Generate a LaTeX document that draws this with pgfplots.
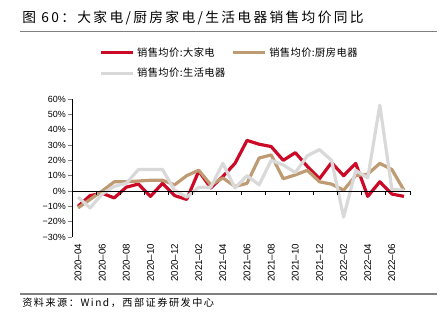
\documentclass[border=0pt]{standalone}
\usepackage{fontspec}
\setmainfont{Liberation Sans}
\newfontfamily\cjk{Noto Sans CJK SC}
\newfontfamily\cjkt[LetterSpace=17]{Noto Sans CJK SC}
\newfontfamily\cjks[LetterSpace=15]{Noto Sans CJK SC}
\newfontfamily\cjkl[LetterSpace=4]{Noto Sans CJK SC}
\usepackage{pgfplots}
\pgfplotsset{compat=1.18}
\definecolor{cRed}{RGB}{204,10,40}
\definecolor{cTan}{RGB}{191,155,115}
\definecolor{cGray}{RGB}{217,217,217}
\definecolor{cRule}{RGB}{128,128,128}
\pgfplotstableread{
i red tan gray
0 -10 -11 -4
1 -3 -5.5 -11
2 -1.5 0 -2
3 -4.5 6 3
4 2.5 6 5
5 4.5 6.5 14
6 -3.5 7 14
7 5 7 14
8 -3 4 0.5
9 -5.5 10 -4
10 13 13.5 2.5
11 2 4 2.5
12 9.5 8.5 18
13 18 3 2
14 33 5 10
15 30.5 21.5 4
16 29 23.5 20
17 20 8 17
18 25 10.5 12
19 16 13.5 23
20 8 6 27
21 18.5 4.5 20
22 10 0.5 -17
23 18 10 13.5
24 -3.5 11 8.5
25 6 18 56
26 -2 14 1
27 -3.5 0.5 0.5
}\datatable
\begin{document}
\begin{tikzpicture}
\path[use as bounding box] (0,0) rectangle (332.25pt,245.25pt);
% title
\node[anchor=west, inner sep=0pt] at (16.5pt,{(327-18.3)*0.75pt}) {\cjkt\fontsize{10.3}{12}\selectfont 图 60：大家电/厨房家电/生活电器销售均价同比};
\draw[cRule, line width=1.1pt] (15pt,{(327-31.7)*0.75pt}) -- (327.75pt,{(327-31.7)*0.75pt});
\draw[cRule, line width=1.1pt] (15pt,{(327-294)*0.75pt}) -- (327.75pt,{(327-294)*0.75pt});
\node[anchor=west, inner sep=0pt] at (16.5pt,{(327-303)*0.75pt}) {\cjks\fontsize{7.6}{9}\selectfont 资料来源：Wind，西部证券研发中心};
\begin{axis}[
  at={(54pt,67.5pt)}, anchor=south west,
  scale only axis, width=253.5pt, height=103.5pt,
  xmin=-0.5, xmax=27.5, ymin=-30, ymax=60,
  axis y line*=left, axis x line*=bottom,
  x axis line style={draw=none},
  y axis line style={line width=0.6pt},
  ytick={-30,-20,...,60},
  yticklabels={−30\%,−20\%,−10\%,0\%,10\%,20\%,30\%,40\%,50\%,60\%},
  y tick label style={font=\fontsize{6.7}{7}\selectfont, inner sep=1.5pt},
  ytick style={line width=0.6pt},
  tick align=outside, major tick length=3pt,
  xtick={0,2,...,26},
  xticklabels={2020--04,2020--06,2020--08,2020--10,2020--12,2021--02,2021--04,2021--06,2021--08,2021--10,2021--12,2022--02,2022--04,2022--06},
  x tick label style={rotate=90, anchor=east, font=\fontsize{7.3}{8}\selectfont, inner sep=2pt},
  xtick style={draw=none},
  clip=false,
  legend columns=2,
  legend cell align=left,
  legend image code/.code={\draw[#1] (0pt,0pt) -- (24pt,0pt);},
  legend style={at={(0.068,1.405)}, anchor=north west, draw=none, fill=none,
    font=\cjkl\fontsize{7.7}{9}\selectfont, row sep=5.5pt,
    nodes={inner sep=1pt},
    /tikz/every odd column/.append style={column sep=1pt},
    /tikz/every even column/.append style={column sep=3.5pt}},
]
\addplot[cRed, line width=2.4pt, line join=round] table[x=i, y=red] {\datatable};
\addlegendentry{销售均价:大家电}
\addplot[cTan, line width=2.4pt, line join=round] table[x=i, y=tan] {\datatable};
\addlegendentry{销售均价:厨房电器}
\addplot[cGray, line width=2.4pt, line join=round] table[x=i, y=gray] {\datatable};
\addlegendentry{销售均价:生活电器}
\draw[black, line width=0.7pt] (axis cs:-0.5,0) -- (axis cs:27.5,0);
\pgfplotsinvokeforeach{1.5,3.5,...,27.5}{\draw[black, line width=0.6pt] (axis cs:#1,0) -- ([yshift=-3pt]axis cs:#1,0);}
\end{axis}
\end{tikzpicture}
\end{document}
